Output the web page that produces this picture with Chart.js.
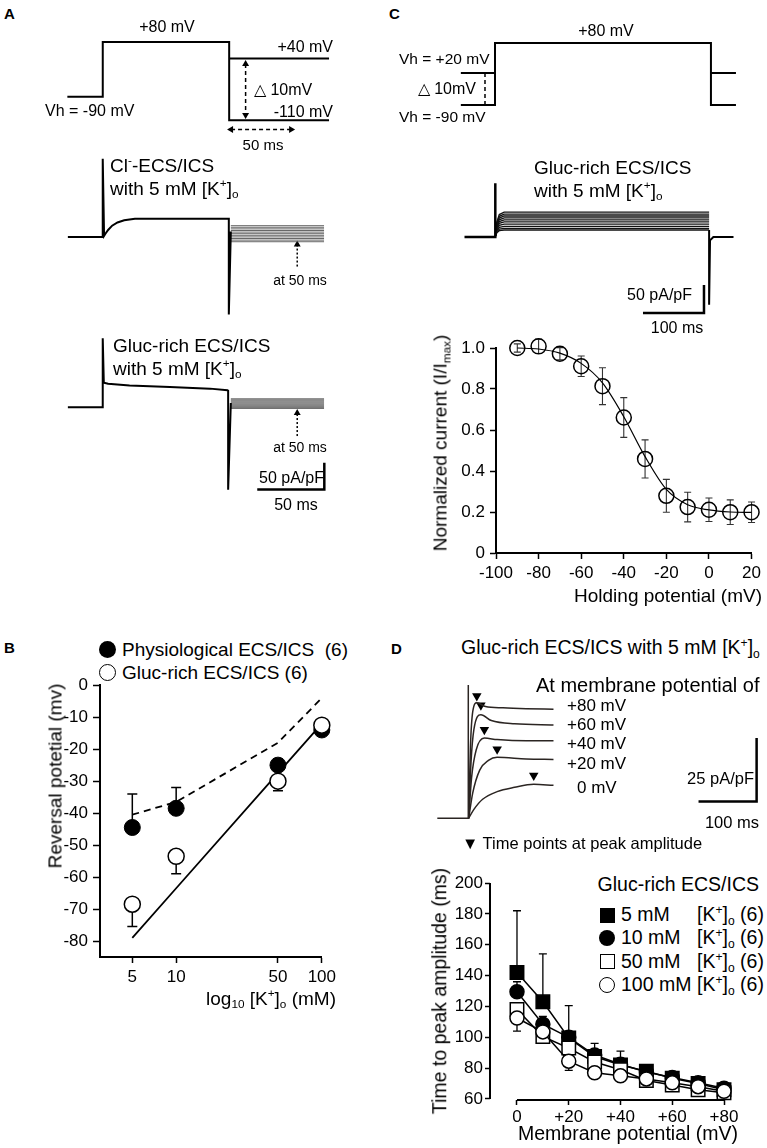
<!DOCTYPE html>
<html>
<head>
<meta charset="utf-8">
<script src="https://cdn.jsdelivr.net/npm/chart.js@4.4.1/dist/chart.umd.min.js"></script>
<style>
  body { margin: 0; background: #fff; }
  #fig { position: relative; width: 767px; height: 1148px; overflow: hidden;
         font-family: "Liberation Sans", Arial, sans-serif; color: #000; background: #fff; }
  canvas { position: absolute; }
  .t { position: absolute; white-space: nowrap; line-height: 1; }
  .t sub { font-size: 0.62em; vertical-align: -0.3em; line-height: 0; }
  .t sup { font-size: 0.62em; vertical-align: 0.6em; line-height: 0; }
  .p { font-weight: bold; }
  .mk { position: absolute; box-sizing: border-box; background: #000; }
</style>
</head>
<body>
<div id="fig"></div>
<script>
// ---------------- data ----------------

// B: reversal potential vs [K+]o
const bConc = [5, 10, 50, 100];
const bPhys = [-44.5, -38.5, -25, -14];
const bPhysErr = [10.5, 6.5, 2, 1];
const bGluc = [-68.5, -53.5, -30, -12.5];
const bGlucErr = [7, 5.5, 3, 1];
const bDashed = [-40.5, -36.5, -18, -4];
const bSolid = [-79, -63.5, -27.5, -12];
const bTicksX = [5, 10, 50, 100];
const bTicksY = [0, -10, -20, -30, -40, -50, -60, -70, -80];

// C: normalized current vs holding potential
const cHold = [-90, -80, -70, -60, -50, -40, -30, -20, -10, 0, 10, 20];
const cNorm = [1.0, 1.008, 0.972, 0.911, 0.814, 0.661, 0.459, 0.279, 0.224, 0.211, 0.199, 0.199];
const cNormErr = [0.02, 0.035, 0.03, 0.05, 0.09, 0.097, 0.093, 0.08, 0.072, 0.057, 0.06, 0.05];
const cFit = [1.0, 0.995, 0.975, 0.925, 0.83, 0.665, 0.47, 0.31, 0.235, 0.21, 0.2, 0.198];
const cTicksX = [-100, -80, -60, -40, -20, 0, 20];
const cTicksY = [0, 0.2, 0.4, 0.6, 0.8, 1.0];

// D: time to peak amplitude vs membrane potential
const dVm = [0, 10, 20, 30, 40, 50, 60, 70, 80];
const d5 = [142, 123, 99.5, 87.5, 82, 78, 73.5, 70, 66];
const d5Err = [40, 31, 21, 8.5, 9, 2, 2, 2, 2];
const d10 = [129.5, 108.5, 100, 88.5, 82.5, 77.5, 74, 70.5, 67];
const d10Err = [6.5, 5, 3, 3, 3, 2, 2, 2, 2];
const d50 = [118, 100.5, 93, 84, 79, 72, 69, 66, 64];
const d50Err = [4, 4, 3, 3, 2, 2, 2, 2, 2];
const d100 = [112.5, 103.5, 84.5, 77, 75, 73, 70.5, 68, 65];
const d100Err = [8.5, 5, 6, 2, 2, 2, 2, 2, 2];
const dTicksX = [0, 20, 40, 60, 80];
const dTicksY = [60, 80, 100, 120, 140, 160, 180, 200];

// A: voltage protocol (ms, drawn level: 0 = -110 mV, 30 = -90 mV, 79 = +40 mV, 100 = +80 mV)
const aProtoT = [-28, 0, 0, 100, 100, 179];
const aProtoV = [30, 30, 100, 100, 0, 0];
const aTailHighT = [100, 179];
const aTailHighV = [79, 79];

// A: current traces (ms, pA/pF)
const a1T = [-26, 0, 0, 1, 2, 4, 7, 11, 16, 24, 94, 94, 95.5];
const a1I = [0, 0, 146, 2, 6, 13, 21, 27, 31, 34, 34, -145, 10];
const a1Tail = [21, 18, 15, 12, 9, 6, 3, 0, -3, -6, -9];
const a2T = [-26, 0, 0, 0.8, 4, 20, 50, 80, 93, 93.5, 93.5, 95.5];
const a2I = [0, 0, 129, 46, 44, 41, 38, 35, 32, 31, -154, 8];
const a2Tail = [16, 14, 12, 10, 8, 6, 4, 2, 0, -2];
const aTailT = [95.5, 165];

// C: voltage protocol (ms, drawn level: 0 = -90 mV, 32 = +20 mV, 62 = +80 mV)
const cProtoT = [-56, 0, 0, 354, 354, 395];
const cProtoV = [0, 0, 62, 62, 0, 0];
const cHoldHighT = [-56, 0];
const cEndHighT = [354, 395];
const cHoldHighV = [32, 32];

// C: current trace family (ms, pA/pF)
const cBaseT = [-50, 0, 0, 1];
const cBaseI = [0, 0, 96, 4];
const cFamily = [44.5, 41, 37.5, 34, 30.5, 27, 23, 19, 15.5, 12.5];
const cRiseT = [1, 3, 7, 15, 351];
const cRiseF = [0.1, 0.6, 0.9, 1, 1];
const cEndT = [351, 351, 352.5, 358, 391];
const cEndI = [12.5, -121, -6, 0, 0];

// D: current traces at +80, +60, +40, +20, 0 mV (ms, pA/pF)
const dBaseT = [-53, 0, 0, 0.7];
const dBaseI = [0, 0, 52.5, 0];
const dTraceT = [
  [1, 4, 8, 15, 30, 60, 100, 147],
  [1, 5, 10, 22, 40, 80, 147],
  [1, 6, 14, 28, 50, 100, 147],
  [1, 8, 20, 35, 50, 100, 147],
  [1, 10, 25, 50, 80, 113, 147]
];
const dTraceI = [
  [0, 28, 42, 45.5, 44, 43.5, 43.2, 43],
  [0, 22, 35, 40.8, 38.5, 37.2, 36.8],
  [0, 16, 27, 31.6, 31, 30.5, 30.5],
  [0, 10, 19, 22.8, 24, 23.4, 23.2],
  [0, 3.5, 7.5, 10.5, 12.2, 13.4, 13]
];
const dPeakT = [15, 22, 28, 50, 113];
const dPeakMark = [48.2, 44.5, 34.9, 27.2, 16.9];

// ---------------- helpers ----------------
const fig = document.getElementById('fig');
Chart.defaults.font.family = '"Liberation Sans", Arial, sans-serif';
Chart.defaults.color = '#000';

function pts(xs, ys) { return xs.map((x, i) => ({ x: x, y: ys[i] })); }

function canvasAt(box) {
  const c = document.createElement('canvas');
  c.width = box.w; c.height = box.h;
  c.style.left = box.x + 'px'; c.style.top = box.y + 'px';
  c.style.width = box.w + 'px'; c.style.height = box.h + 'px';
  fig.appendChild(c);
  return c;
}

function txt(html, x, y, size, align, cls) {
  const d = document.createElement('div');
  d.className = 't' + (cls ? ' ' + cls : '');
  d.innerHTML = html;
  d.style.fontSize = size + 'px';
  d.style.left = x + 'px';
  d.style.top = y + 'px';
  let tx = '0';
  if (align === 'right') tx = '-100%';
  if (align === 'center' || align === 'rot') tx = '-50%';
  d.style.transform = 'translate(' + tx + ',-50%)' + (align === 'rot' ? ' rotate(-90deg)' : '');
  fig.appendChild(d);
}

function marker(kind, cx, cy, size, open) {
  const m = document.createElement('div');
  m.className = 'mk';
  m.style.left = (cx - size / 2) + 'px';
  m.style.top = (cy - size / 2) + 'px';
  m.style.width = size + 'px';
  m.style.height = size + 'px';
  if (kind === 'circle') m.style.borderRadius = '50%';
  if (open) { m.style.background = '#fff'; m.style.border = '1.5px solid #000'; }
  fig.appendChild(m);
}

// schematic drawings: hidden linear axes, origin pixel + px per unit
function sketch(box, map, datasets) {
  return new Chart(canvasAt(box), {
    type: 'line',
    data: { datasets: datasets.map(d => Object.assign({
      borderColor: '#000', borderWidth: 1.5, pointRadius: 0, fill: false, tension: 0, clip: false
    }, d)) },
    options: {
      responsive: false, animation: false, events: [],
      layout: { padding: 0 },
      plugins: { legend: { display: false }, tooltip: { enabled: false } },
      scales: {
        x: { type: 'linear', display: false,
             min: (box.x - map.x0) / map.sx, max: (box.x + box.w - map.x0) / map.sx },
        y: { type: 'linear', display: false,
             min: (map.y0 - box.y - box.h) / map.sy, max: (map.y0 - box.y) / map.sy }
      }
    }
  });
}

function arrow(xs, ys, rot, dash) {
  return { data: pts(xs, ys), borderDash: dash, borderWidth: 1.5,
           pointStyle: 'triangle', pointRadius: 4, pointRotation: rot,
           pointBackgroundColor: '#000', pointBorderColor: '#000', pointBorderWidth: 0 };
}

function axis(o) {
  return Object.assign({
    ticks: { color: '#000', font: { size: 17 }, padding: o.pad, maxRotation: 0, minRotation: 0,
             autoSkip: false, callback: o.fmt },
    grid: { display: true, drawOnChartArea: false, drawTicks: true, tickLength: o.tick,
            color: '#000', tickWidth: 1.5 },
    border: { display: o.border !== false, color: '#000', width: 2 },
    afterBuildTicks: s => { s.ticks = o.values.map(v => ({ value: v })); },
    afterFit: s => { if (s.isHorizontal()) s.height = o.size; else s.width = o.size; }
  }, o.extra);
}

const errorBars = {
  id: 'errorBars',
  beforeDatasetsDraw(chart) {
    const ctx = chart.ctx;
    chart.data.datasets.forEach((ds, i) => {
      if (!ds.errors) return;
      const meta = chart.getDatasetMeta(i);
      const xs = chart.scales[meta.xAxisID], ys = chart.scales[meta.yAxisID];
      ctx.save();
      ctx.strokeStyle = ds.errColor || '#000';
      ctx.lineWidth = ds.errWidth || 1.5;
      ds.data.forEach((p, j) => {
        const e = ds.errors[j];
        if (!e) return;
        const px = xs.getPixelForValue(p.x);
        const lo = ds.errDir === 'up' ? p.y : p.y - e;
        const hi = ds.errDir === 'down' ? p.y : p.y + e;
        const y1 = ys.getPixelForValue(lo), y2 = ys.getPixelForValue(hi);
        ctx.beginPath();
        ctx.moveTo(px, y1); ctx.lineTo(px, y2);
        if (ds.errDir !== 'down') { ctx.moveTo(px - ds.cap, y2); ctx.lineTo(px + ds.cap, y2); }
        if (ds.errDir !== 'up') { ctx.moveTo(px - ds.cap, y1); ctx.lineTo(px + ds.cap, y1); }
        ctx.stroke();
      });
      ctx.restore();
    });
  }
};

// axis lines that stop at the end ticks (panel D)
const openAxes = {
  id: 'openAxes',
  beforeDatasetsDraw(chart, args, o) {
    const ctx = chart.ctx, xs = chart.scales.x, ys = chart.scales.y, a = chart.chartArea;
    ctx.save();
    ctx.strokeStyle = '#000';
    ctx.lineWidth = 2;
    ctx.beginPath();
    ctx.moveTo(a.left, ys.getPixelForValue(o.yTo));
    ctx.lineTo(a.left, ys.getPixelForValue(o.yFrom));
    ctx.moveTo(xs.getPixelForValue(o.xFrom), a.bottom);
    ctx.lineTo(xs.getPixelForValue(o.xTo), a.bottom);
    ctx.stroke();
    ctx.restore();
  }
};

function baseOptions(padTop, padRight) {
  return {
    responsive: false, animation: false, events: [],
    layout: { padding: { top: padTop, right: padRight, left: 0, bottom: 0 } },
    plugins: { legend: { display: false }, tooltip: { enabled: false } }
  };
}

// ---------------- panel A ----------------
txt('A', 4, 13, 15, 'left', 'p');
sketch({ x: 55, y: 25, w: 290, h: 115 }, { x0: 100, y0: 123, sx: 1.3, sy: 0.84 }, [
  { data: pts(aProtoT, aProtoV), borderWidth: 2 },
  { data: pts(aTailHighT, aTailHighV), borderWidth: 2 },
  arrow([113, 113], [72, 6.5], [0, 180], [4, 3]),
  arrow([101.5, 149], [-11.9, -11.9], [270, 90], [4, 3])
]);
txt('+80 mV', 167, 27, 16, 'center');
txt('+40 mV', 333, 47, 16, 'right');
txt('&#9651; 10mV', 254, 90, 16, 'left');
txt('-110 mV', 333, 112, 16, 'right');
txt('Vh = -90 mV', 45, 111, 16, 'left');
txt('50 ms', 263, 144, 15, 'center');

const a1Sets = [{ data: pts(a1T, a1I), borderWidth: 2 }];
a1Tail.forEach(l => a1Sets.push({ data: pts(aTailT, [l, l]), borderWidth: 0.9, borderColor: '#555' }));
a1Sets.push(arrow([145, 145], [-55.4, -14.3], [0, 0], [2, 2]));
a1Sets[a1Sets.length - 1].pointRadius = [0, 4];
sketch({ x: 55, y: 145, w: 285, h: 180 }, { x0: 100, y0: 237, sx: 1.38, sy: 0.56 }, a1Sets);
txt('Cl<sup>-</sup>-ECS/ICS', 110, 165, 19, 'left');
txt('with 5 mM [K<sup>+</sup>]<sub>o</sub>', 110, 188, 19, 'left');
txt('at 50 ms', 300, 280, 14, 'center');

const a2Sets = [{ data: pts(a2T, a2I), borderWidth: 2 }];
a2Tail.forEach(l => a2Sets.push({ data: pts(aTailT, [l, l]), borderWidth: 0.9, borderColor: '#555' }));
a2Sets.push(arrow([145, 145], [-53.6, -10.7], [0, 0], [2, 2]));
a2Sets[a2Sets.length - 1].pointRadius = [0, 4];
a2Sets.push({ data: pts([115.2, 165.2, 165.2], [-153.6, -153.6, -103.6]), borderWidth: 2.5 });
sketch({ x: 55, y: 325, w: 285, h: 180 }, { x0: 100, y0: 407, sx: 1.38, sy: 0.56 }, a2Sets);
txt('Gluc-rich ECS/ICS', 113, 345, 19, 'left');
txt('with 5 mM [K<sup>+</sup>]<sub>o</sub>', 113, 368, 19, 'left');
txt('at 50 ms', 300, 447, 14, 'center');
txt('50 pA/pF', 324, 478, 16, 'right');
txt('50 ms', 296, 505, 16, 'center');

// ---------------- panel C ----------------
txt('C', 389, 13, 15, 'left', 'p');
sketch({ x: 450, y: 30, w: 300, h: 90 }, { x0: 495, y0: 105, sx: 0.61, sy: 1 }, [
  { data: pts(cProtoT, cProtoV), borderWidth: 2 },
  { data: pts(cHoldHighT, cHoldHighV), borderWidth: 2 },
  { data: pts(cEndHighT, cHoldHighV), borderWidth: 2 },
  { data: pts([-16.4, -16.4], [32, 0]), borderWidth: 1.5, borderDash: [4, 3] }
]);
txt('+80 mV', 606, 31, 16, 'center');
txt('Vh = +20 mV', 399, 59, 15.5, 'left');
txt('&#9651; 10mV', 476, 89, 16, 'right');
txt('Vh = -90 mV', 399, 117, 15.5, 'left');

const cSets = [{ data: pts(cBaseT, cBaseI), borderWidth: 2.5 }];
cFamily.forEach(l => cSets.push({ data: pts(cRiseT, cRiseF.map(f => f * l)), borderWidth: 1.3, borderColor: '#111' }));
cSets.push({ data: pts(cEndT, cEndI), borderWidth: 2 });
cSets.push({ data: pts([242.6, 342.6, 342.6], [-135.7, -135.7, -85.7]), borderWidth: 2.5 });
sketch({ x: 450, y: 170, w: 300, h: 150 }, { x0: 495, y0: 237, sx: 0.61, sy: 0.56 }, cSets);
txt('Gluc-rich ECS/ICS', 534, 167, 19, 'left');
txt('with 5 mM [K<sup>+</sup>]<sub>o</sub>', 534, 190, 19, 'left');
txt('50 pA/pF', 692, 295, 16, 'right');
txt('100 ms', 677, 328, 16, 'center');

new Chart(canvasAt({ x: 420, y: 330, w: 345, h: 260 }), {
  type: 'scatter',
  data: { datasets: [
    { type: 'line', data: pts(cHold, cFit), borderColor: '#000', borderWidth: 1.2, pointRadius: 0,
      cubicInterpolationMode: 'monotone', clip: false, order: 2 },
    { data: pts(cHold, cNorm), errors: cNormErr, errDir: 'both', cap: 3.5, errWidth: 1.1, errColor: '#333',
      pointRadius: 7.5, backgroundColor: 'rgba(0,0,0,0)', borderColor: '#000', borderWidth: 1.5,
      clip: false, order: 1 }
  ] },
  options: Object.assign(baseOptions(18, 10), { scales: {
    x: axis({ values: cTicksX, pad: 4, tick: 6, size: 37, fmt: v => String(v),
              extra: { type: 'linear', position: 'bottom', min: -100, max: 20 } }),
    y: axis({ values: cTicksY, pad: 5, tick: 6, size: 76, fmt: v => v === 0 ? '0' : v.toFixed(1),
              extra: { type: 'linear', min: 0, max: 1.0 } })
  } }),
  plugins: [errorBars]
});
txt('Normalized current (I/I<sub>max</sub>)', 440, 443, 19, 'rot');
txt('Holding potential (mV)', 762, 595, 19, 'right');

// ---------------- panel B ----------------
txt('B', 4, 647, 15, 'left', 'p');
marker('circle', 107, 649, 17, false);
marker('circle', 107, 672, 17, true);
txt('Physiological ECS/ICS&nbsp; (6)', 122, 649, 19, 'left');
txt('Gluc-rich ECS/ICS (6)', 122, 672, 19, 'left');

new Chart(canvasAt({ x: 40, y: 670, w: 300, h: 325 }), {
  type: 'scatter',
  data: { datasets: [
    { type: 'line', data: pts(bConc, bSolid), borderColor: '#000', borderWidth: 1.8, pointRadius: 0, clip: false, order: 4 },
    { type: 'line', data: pts(bConc, bDashed), borderColor: '#000', borderWidth: 1.8, borderDash: [7, 5],
      pointRadius: 0, clip: false, order: 3 },
    { data: pts(bConc, bPhys), errors: bPhysErr, errDir: 'up', cap: 5, pointRadius: 8,
      backgroundColor: '#000', borderColor: '#000', borderWidth: 1, clip: false, order: 2 },
    { data: pts(bConc, bGluc), errors: bGlucErr, errDir: 'down', cap: 5, pointRadius: 8,
      backgroundColor: '#fff', borderColor: '#000', borderWidth: 1.5, clip: false, order: 1 }
  ] },
  options: Object.assign(baseOptions(15, 17), { scales: {
    x: axis({ values: bTicksX, pad: 4, tick: 6, size: 38, fmt: v => String(v),
              extra: { type: 'logarithmic', position: 'bottom', min: 3, max: 100 } }),
    y: axis({ values: bTicksY, pad: 5, tick: 7, size: 60, fmt: v => String(v),
              extra: { type: 'linear', min: -85, max: 0 } })
  } }),
  plugins: [errorBars]
});
txt('Reversal potetial (mv)', 55, 776, 19, 'rot');
txt('log<sub>10</sub> [K<sup>+</sup>]<sub>o</sub> (mM)', 336, 998, 19, 'right');

// ---------------- panel D ----------------
txt('D', 391, 648, 15, 'left', 'p');
txt('Gluc-rich ECS/ICS with 5 mM [K<sup>+</sup>]<sub>o</sub>', 461, 648, 19.5, 'left');

const dSets = [{ data: pts(dBaseT, dBaseI), borderWidth: 1.5, borderColor: '#2b2522' }];
dTraceT.forEach((t, k) => dSets.push({ data: pts(t, dTraceI[k]), borderWidth: 1.5, borderColor: '#2b2522',
                                       cubicInterpolationMode: 'monotone' }));
dSets.push({ data: pts(dPeakT, dPeakMark), showLine: false, pointStyle: 'triangle', pointRadius: 5.5,
             pointRotation: 180, pointBackgroundColor: '#000', pointBorderWidth: 0 });
dSets.push({ data: pts([396.7, 496.7, 496.7], [6.6, 6.6, 31.6]), borderWidth: 2.5 });
sketch({ x: 420, y: 670, w: 345, h: 165 }, { x0: 464, y0: 823, sx: 0.6, sy: 2.72 }, dSets);
txt('At membrane potential of', 536, 685, 20, 'left');
txt('+80 mV', 567, 705, 17, 'left');
txt('+60 mV', 567, 724, 17, 'left');
txt('+40 mV', 567, 743, 17, 'left');
txt('+20 mV', 567, 763, 17, 'left');
txt('0 mV', 577, 787, 17, 'left');
txt('25 pA/pF', 754, 778, 16.5, 'right');
txt('100 ms', 732, 822, 16.5, 'center');
txt('&#9660; Time points at peak amplitude', 462, 843, 16.5, 'left');

txt('Gluc-rich ECS/ICS', 759, 885, 19.5, 'right');
const dLegend = [
  ['rect', false, '5 mM'], ['circle', false, '10 mM'], ['rect', true, '50 mM'], ['circle', true, '100 mM']
];
dLegend.forEach((r, k) => {
  const cy = 915 + k * 23.4;
  marker(r[0], 607, cy, r[0] === 'rect' ? 15 : 16, r[1]);
  txt(r[2], 621, cy, 19.5, 'left');
  txt('[K<sup>+</sup>]<sub>o</sub> (6)', 697, cy, 19.5, 'left');
});

function dSeries(vals, errs, dir, style, open, order) {
  return { data: pts(dVm, vals), errors: errs, errDir: dir, cap: 4, errWidth: 1.3, showLine: true,
           borderColor: '#000', borderWidth: 1.5, pointStyle: style,
           pointRadius: style === 'rect' ? 9.5 : 7,
           pointBackgroundColor: open ? '#fff' : '#000', pointBorderColor: '#000', pointBorderWidth: 1.5,
           clip: false, order: order };
}

new Chart(canvasAt({ x: 420, y: 865, w: 345, h: 265 }), {
  type: 'scatter',
  data: { datasets: [
    dSeries(d5, d5Err, 'up', 'rect', false, 4),
    dSeries(d10, d10Err, 'up', 'circle', false, 3),
    dSeries(d50, d50Err, 'down', 'rect', true, 2),
    dSeries(d100, d100Err, 'down', 'circle', true, 1)
  ] },
  options: Object.assign(baseOptions(18, 41), {
    scales: {
      x: axis({ values: dTicksX, pad: 2, tick: 5, size: 30, border: false,
                fmt: v => v > 0 ? '+' + v : String(v),
                extra: { type: 'linear', position: 'bottom', min: -10.43, max: 80 } }),
      y: axis({ values: dTicksY, pad: 2, tick: 5, size: 70, border: false, fmt: v => String(v),
                extra: { type: 'linear', min: 59.35, max: 200 } })
    },
    plugins: { legend: { display: false }, tooltip: { enabled: false },
               openAxes: { xFrom: 0, xTo: 80, yFrom: 60, yTo: 200 } }
  }),
  plugins: [errorBars, openAxes]
});
txt('Time to peak amplitude (ms)', 440, 991, 19.5, 'rot');
txt('Membrane potential (mV)', 628, 1134, 19.5, 'center');
</script>
</body>
</html>
